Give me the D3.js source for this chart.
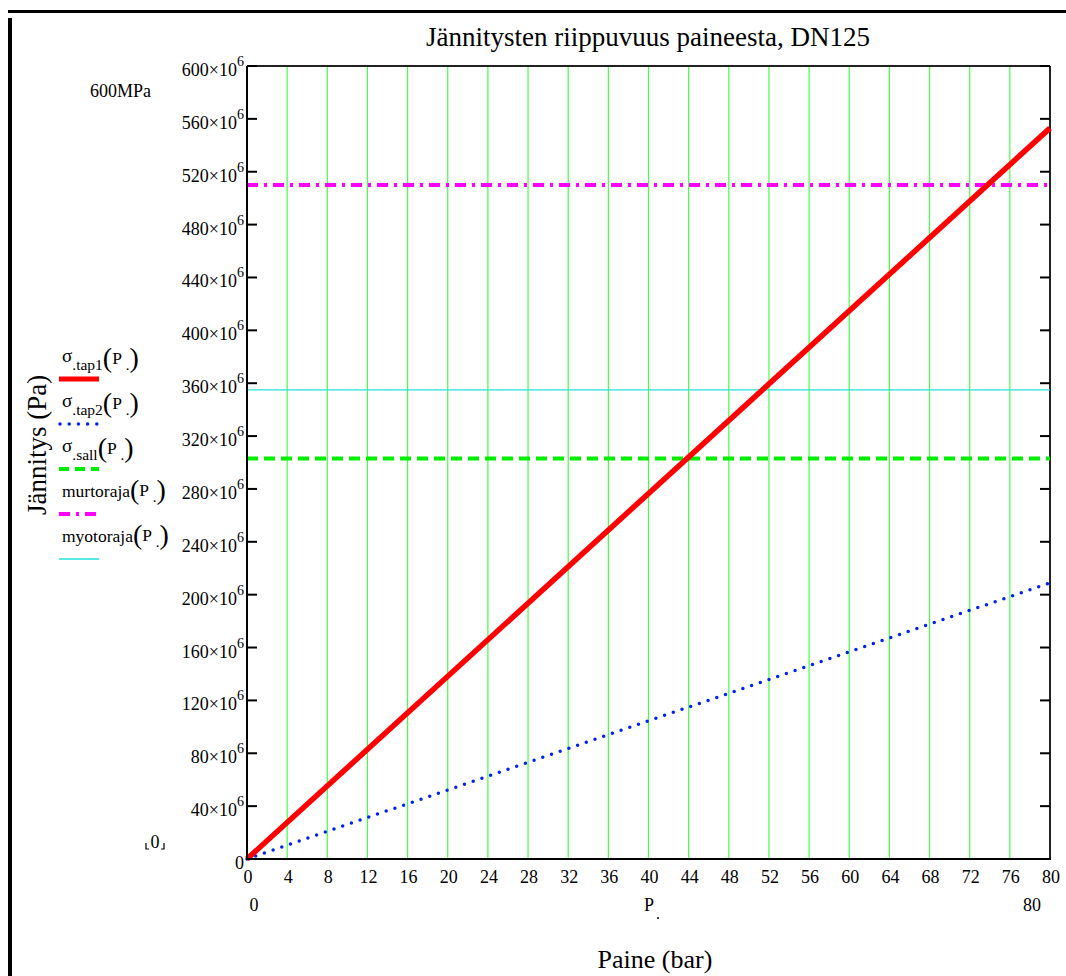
<!DOCTYPE html>
<html>
<head>
<meta charset="utf-8">
<script src="https://cdn.jsdelivr.net/npm/d3@7"></script>
<style>
  body { margin: 0; background: #fff; }
  text { font-family: "Liberation Serif", "Times New Roman", serif; fill: #000; }
</style>
</head>
<body>
<div id="chart"></div>
<script>
// pressure range (bar) and the series values (Pa)
let pressure = [0, 80];
let sigmaTap1 = [0, 553e6];
let sigmaTap2 = [0, 209e6];
let sigmaSall = [303e6, 303e6];
let murtoraja = [510e6, 510e6];
let myotoraja = [355e6, 355e6];

let xTicks = d3.range(0, 81, 4);
let yTicks = d3.range(0, 600e6 + 1, 40e6);

let legendNames = ["σ.tap1", "σ.tap2", "σ.sall", "murtoraja", "myotoraja"];

let width = 1066;
let height = 976;
let plotLeft = 247, plotRight = 1050, plotTop = 66, plotBottom = 859;

let svg = d3.select("#chart")
    .append("svg")
    .attr("width", width)
    .attr("height", height);

// outer frame
svg.append("rect").attr("x", 8).attr("y", 10).attr("width", width - 8).attr("height", 3).attr("fill", "#000");
svg.append("rect").attr("x", 8).attr("y", 18).attr("width", 4).attr("height", height - 18).attr("fill", "#000");

let xScale = d3.scaleLinear().domain([0, 80]).range([plotLeft, plotRight]);
let yScale = d3.scaleLinear().domain([0, 600e6]).range([plotBottom, plotTop]);

// vertical grid
svg.append("g")
    .selectAll("line")
    .data(xTicks.filter(d => d > 0 && d < 80))
    .join("line")
    .attr("x1", d => xScale(d)).attr("x2", d => xScale(d))
    .attr("y1", plotTop).attr("y2", plotBottom)
    .attr("stroke", "#44ff44")
    .attr("stroke-width", 1.2);

// frame of plot
svg.append("line").attr("x1", plotLeft).attr("x2", plotRight).attr("y1", plotTop).attr("y2", plotTop)
    .attr("stroke", "#222").attr("stroke-width", 2);
svg.append("line").attr("x1", plotRight).attr("x2", plotRight).attr("y1", plotTop).attr("y2", plotBottom)
    .attr("stroke", "#222").attr("stroke-width", 2);

// y ticks inside, both sides
svg.append("g")
    .selectAll("line")
    .data(yTicks)
    .join("line")
    .attr("x1", plotLeft).attr("x2", plotLeft + 10)
    .attr("y1", d => yScale(d)).attr("y2", d => yScale(d))
    .attr("stroke", "#000").attr("stroke-width", 2);
svg.append("g")
    .selectAll("line")
    .data(yTicks)
    .join("line")
    .attr("x1", plotRight).attr("x2", plotRight - 10)
    .attr("y1", d => yScale(d)).attr("y2", d => yScale(d))
    .attr("stroke", "#000").attr("stroke-width", 2);

// y tick labels  NNN×10^6
let yLab = svg.append("g")
    .selectAll("text")
    .data(yTicks)
    .join("text")
    .attr("x", plotLeft - 3)
    .attr("y", d => yScale(d) + 10)
    .attr("text-anchor", "end")
    .attr("font-size", 18);
yLab.each(function (d) {
    let t = d3.select(this);
    if (d === 0) {
        t.text("0");
    } else {
        t.append("tspan").text((d / 1e6) + "×10");
        t.append("tspan").attr("dy", -10).attr("font-size", 14).text("6");
    }
});

// x tick labels
svg.append("g")
    .selectAll("text")
    .data(xTicks)
    .join("text")
    .attr("x", d => xScale(d) + 1)
    .attr("y", plotBottom + 24)
    .attr("text-anchor", "middle")
    .attr("font-size", 18)
    .text(d => d);

// lines
let line = d3.line()
    .x((d, i) => xScale(pressure[i]))
    .y(d => yScale(d));

svg.append("path").datum(myotoraja).attr("d", line)
    .attr("fill", "none").attr("stroke", "#22e0e0").attr("stroke-width", 1.3);
svg.append("path").datum(sigmaSall).attr("d", line)
    .attr("fill", "none").attr("stroke", "#00ee00").attr("stroke-width", 4)
    .attr("stroke-dasharray", "11,6");
svg.append("path").datum(murtoraja).attr("d", line)
    .attr("fill", "none").attr("stroke", "#ff00ff").attr("stroke-width", 4)
    .attr("stroke-dasharray", "11,6,3,6");
svg.append("path").datum(sigmaTap2).attr("d", line)
    .attr("fill", "none").attr("stroke", "#0022ee").attr("stroke-width", 3.5)
    .attr("stroke-linecap", "round")
    .attr("stroke-dasharray", "0,9.2");
svg.append("path").datum(sigmaTap1).attr("d", line)
    .attr("fill", "none").attr("stroke", "#ff0000").attr("stroke-width", 5.5);

// left and bottom axis lines
svg.append("line").attr("x1", plotLeft).attr("x2", plotLeft).attr("y1", plotTop).attr("y2", plotBottom + 1)
    .attr("stroke", "#000").attr("stroke-width", 2);
svg.append("line").attr("x1", plotLeft).attr("x2", plotRight + 1).attr("y1", plotBottom).attr("y2", plotBottom)
    .attr("stroke", "#000").attr("stroke-width", 2);

// title
svg.append("text")
    .attr("x", 648).attr("y", 46)
    .attr("text-anchor", "middle")
    .attr("font-size", 27)
    .text("Jännitysten riippuvuus paineesta, DN125");

svg.append("text").attr("x", 90).attr("y", 97).attr("font-size", 18).text("600MPa");

// ⌞0⌟ marker
svg.append("text").attr("x", 155).attr("y", 848).attr("font-size", 18)
    .attr("text-anchor", "middle").text("0");
svg.append("path").attr("d", "M146,843 v6 h3 M164,843 v6 h-3")
    .attr("fill", "none").attr("stroke", "#000").attr("stroke-width", 1.2);

// second row under x axis
svg.append("text").attr("x", 254).attr("y", 911).attr("font-size", 18).attr("text-anchor", "middle").text("0");
svg.append("text").attr("x", 1032).attr("y", 911).attr("font-size", 18).attr("text-anchor", "middle").text("80");
svg.append("text").attr("x", 649).attr("y", 911).attr("font-size", 18).attr("text-anchor", "middle").text("P");
svg.append("circle").attr("cx", 658).attr("cy", 918).attr("r", 1).attr("fill", "#000");

// axis titles
svg.append("text")
    .attr("x", 655).attr("y", 968)
    .attr("text-anchor", "middle")
    .attr("font-size", 26)
    .text("Paine (bar)");
svg.append("text")
    .attr("transform", "translate(46,445) rotate(-90)")
    .attr("text-anchor", "middle")
    .attr("font-size", 27)
    .text("Jännitys (Pa)");

// legend
let legendStyles = [
    { color: "#ff0000", w: 5, dash: null, cap: "butt" },
    { color: "#0022ee", w: 3.5, dash: "0,9.2", cap: "round" },
    { color: "#00ee00", w: 4, dash: "10,6", cap: "butt" },
    { color: "#ff00ff", w: 4, dash: "11,6,3,6", cap: "butt" },
    { color: "#22e0e0", w: 1.3, dash: null, cap: "butt" }
];

let legend = svg.append("g")
    .selectAll("g")
    .data(legendNames)
    .join("g")
    .attr("transform", (d, i) => "translate(0," + (379 + i * 45) + ")");

legend.append("line")
    .attr("x1", (d, i) => i === 1 ? 60 : 59).attr("x2", 99)
    .attr("y1", 0).attr("y2", 0)
    .attr("stroke", (d, i) => legendStyles[i].color)
    .attr("stroke-width", (d, i) => legendStyles[i].w)
    .attr("stroke-linecap", (d, i) => legendStyles[i].cap)
    .attr("stroke-dasharray", (d, i) => legendStyles[i].dash);

legend.each(function (d) {
    let g = d3.select(this);
    let t = g.append("text").attr("x", 62).attr("y", -15).attr("font-size", 17.5);
    let isSigma = d.startsWith("σ");
    if (isSigma) {
        t.append("tspan").attr("font-size", 19).attr("dy", -2).text("σ");
        t.append("tspan").attr("font-size", 15.5).attr("dy", 8).text(d.slice(1));
        t.append("tspan").attr("font-size", 28).attr("dy", -3).text("(");
        t.append("tspan").attr("font-size", 17.5).attr("dy", -3).text("P");
        t.append("tspan").attr("font-size", 15).attr("dy", 6).text(" .");
        t.append("tspan").attr("font-size", 28).attr("dy", -3).text(")");
    } else {
        t.append("tspan").attr("dy", -2).text(d);
        t.append("tspan").attr("font-size", 28).attr("dy", 2).text("(");
        t.append("tspan").attr("font-size", 17.5).attr("dy", -3).text("P");
        t.append("tspan").attr("font-size", 15).attr("dy", 6).text(" .");
        t.append("tspan").attr("font-size", 28).attr("dy", -3).text(")");
    }
});
</script>
</body>
</html>
